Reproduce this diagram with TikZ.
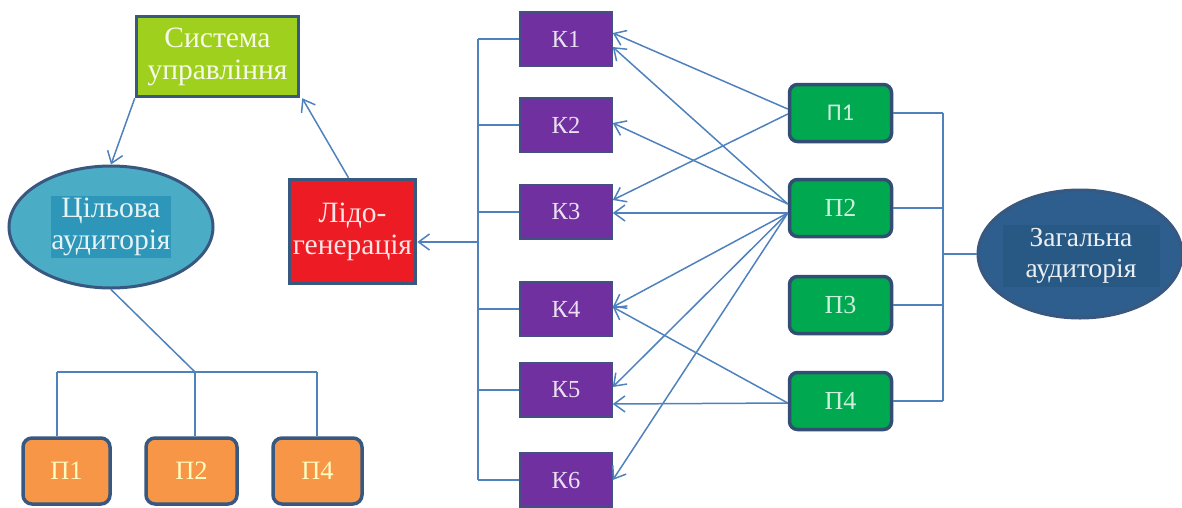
\documentclass[tikz,border=0pt]{standalone}
\usepackage{fontspec}
\setmainfont{Liberation Serif}
\newfontfamily\calibrilike{Carlito}
\usetikzlibrary{arrows.meta,shapes.geometric}

\definecolor{wire}{RGB}{79,129,189}
\definecolor{rim}{RGB}{56,88,128}
\definecolor{lime}{RGB}{160,208,30}
\definecolor{violet}{RGB}{112,48,160}
\definecolor{leaf}{RGB}{0,168,80}
\definecolor{amber}{RGB}{247,150,70}
\definecolor{scarlet}{RGB}{237,28,36}
\definecolor{sky}{RGB}{75,172,198}
\definecolor{skydeep}{RGB}{45,150,185}
\definecolor{navy}{RGB}{46,94,142}
\definecolor{navydeep}{RGB}{40,88,132}

\tikzset{
  wireline/.style={draw=wire, line width=1.5pt},
  arrowline/.style={wireline, -{Straight Barb[length=11pt,width=16pt,line width=1.5pt]}},
  chan/.style={draw=rim!80!violet, line width=1.5pt, fill=violet, text=violet!15,
    minimum width=92pt, minimum height=54pt, inner sep=0pt,
    font=\fontsize{24.5}{28}\selectfont},
  prod/.style={draw=rim!90!black, line width=3.5pt, fill=leaf, text=leaf!20,
    rounded corners=8pt, minimum width=102pt, minimum height=57pt, inner sep=0pt,
    font=\fontsize{26}{30}\selectfont},
  seg/.style={draw=rim, line width=3.5pt, fill=amber, text=yellow!25,
    rounded corners=9pt, minimum width=86pt, minimum height=66pt, inner sep=0pt,
    font=\fontsize{26.5}{30}\selectfont},
  headbox/.style={draw=rim, line width=3.5pt, inner sep=0pt, align=center,
    font=\fontsize{29.5}{32}\selectfont},
  cloud/.style={ellipse, draw=rim, line width=3pt, inner sep=0pt},
  cloudtext/.style={inner sep=0pt, align=center, font=\fontsize{29.5}{32}\selectfont}
}

\begin{document}
\begin{tikzpicture}[x=1pt,y=-1pt]
\useasboundingbox (0,0) rectangle (1182,507);

% left side: control loop
\node[headbox, fill=lime, text=lime!10, minimum width=162pt, minimum height=80pt]
  (sys) at (217.5,56.5) {Система\\управління};
\node[cloud, fill=sky, minimum width=204pt, minimum height=122pt] (tgt) at (111,227) {};
\node[cloudtext, fill=skydeep, text=sky!15, minimum width=118pt, minimum height=62pt]
  (tgtlbl) at (tgt.center) {Цільова\\аудиторія};
\node[headbox, fill=scarlet, text=scarlet!12, minimum width=126pt, minimum height=104pt]
  (lead) at (352.5,231.5) {Лідо-\\генерація};

\draw[arrowline] (sys.south west) -- (tgt.north);
\draw[arrowline] ([xshift=-4pt]lead.north) -- ([xshift=2pt]sys.south east);

% target segments
\node[seg, minimum width=87pt] (s1) at (66.5,471) {П1};
\node[seg, minimum width=91pt] (s2) at (191.5,471) {П2};
\node[seg, minimum width=89pt] (s4) at (317.5,471) {П4};
\coordinate (jn) at (195,372);
\coordinate (ja) at (57,372);
\coordinate (jb) at (317,372);
\draw[wireline] (tgt.south) -- (jn);
\draw[wireline] (ja) -- (jb);
\draw[wireline] (ja) -- (ja |- s1.north);
\draw[wireline] (jn) -- (jn |- s2.north);
\draw[wireline] (jb) -- (jb |- s4.north);

% channels
\node[chan] (k1) at (566,39) {К1};
\node[chan] (k2) at (566,125) {К2};
\node[chan] (k3) at (566,212) {К3};
\node[chan] (k4) at (566,309) {К4};
\node[chan] (k5) at (566,390) {К5};
\node[chan] (k6) at (566,480) {К6};
\coordinate (lbtop) at (478,39);
\coordinate (lbbot) at (478,480);
\coordinate (lbout) at (478,242);
\draw[wireline] (lbtop) -- (lbbot);
\foreach \k in {k1,k2,k3,k4,k5,k6}
  \draw[wireline] (lbtop |- \k.west) -- (\k.west);
\draw[arrowline] (lbout) -- (lbout -| lead.east);

% products
\node[prod, font=\fontsize{24}{28}\selectfont\calibrilike] (p1) at (840.5,113) {П1};
\node[prod] (p2) at (840.5,208) {П2};
\node[prod] (p3) at (840.5,305) {П3};
\node[prod] (p4) at (840.5,401) {П4};

% general audience
\node[cloud, fill=navy, minimum width=204pt, minimum height=128pt] (gen) at (1080,254) {};
\node[cloudtext, fill=navydeep, text=navy!10, minimum width=157pt, minimum height=62pt,
  font=\fontsize{27.5}{31}\selectfont] (genlbl) at (1081,256) {Загальна\\аудиторія};
\coordinate (rbtop) at (943,113);
\coordinate (rbbot) at (943,401);
\coordinate (rbout) at (943,254);
\draw[wireline] (rbtop) -- (rbbot);
\foreach \p in {p1,p2,p3,p4}
  \draw[wireline] (\p.east) -- (rbtop |- \p.east);
\draw[wireline] (rbout) -- (gen.west);

% product -> channel links
\draw[arrowline] ([yshift=4pt]p1.west) -- ([yshift=6pt]k1.east);
\draw[arrowline] ([yshift=-1pt]p1.west) -- ([yshift=12pt]k3.east);
\draw[arrowline] ([yshift=4pt]p2.west) -- ([yshift=-8pt]k1.east);
\draw[arrowline] ([yshift=4pt]p2.west) -- ([yshift=2pt]k2.east);
\draw[arrowline] ([yshift=-5pt]p2.west) -- ([yshift=-1pt]k3.east);
\draw[arrowline] ([yshift=-5pt]p2.west) -- ([yshift=2pt]k4.east);
\draw[arrowline] ([yshift=-5pt]p2.west) -- ([yshift=3pt]k5.east);
\draw[arrowline] ([yshift=-5pt]p2.west) -- (k6.east);
\draw[arrowline] ([yshift=-2pt]p4.west) -- ([yshift=2pt]k4.east);
\draw[arrowline] ([yshift=-2pt]p4.west) -- ([yshift=-14pt]k5.east);
\end{tikzpicture}
\end{document}
